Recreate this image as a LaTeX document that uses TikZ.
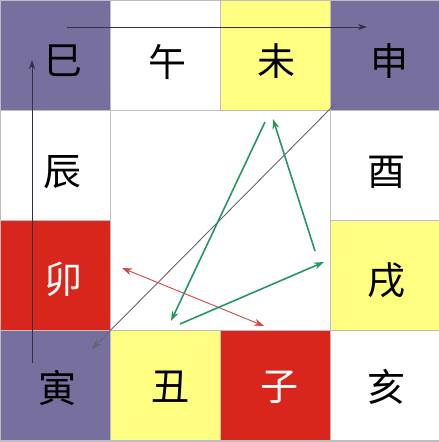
\documentclass[tikz,border=0pt]{standalone}
\usepackage{fontspec}
\newfontfamily\cjk{Noto Sans CJK SC}
\usetikzlibrary{arrows.meta}
\definecolor{cpurple}{RGB}{119,112,158}
\definecolor{cyellow}{RGB}{254,254,128}
\definecolor{cred}{RGB}{216,38,28}
\definecolor{cgrid}{RGB}{190,190,190}
\definecolor{cdark}{RGB}{50,50,70}
\definecolor{cgreen}{RGB}{40,150,100}
\definecolor{carrred}{RGB}{210,70,70}
\definecolor{cdiag}{RGB}{100,100,115}
\tikzset{
  cell/.style={draw=cgrid, line width=0.8pt, minimum width=110pt, minimum height=110pt, inner sep=0pt, anchor=north west},
  lbl/.style={font=\cjk\fontsize{38}{38}\selectfont, inner sep=0pt},
  wlbl/.style={lbl, text=white},
  darrow/.style={draw=cdark, line width=1pt, -{Stealth[length=9pt,width=6pt]}},
  garrow/.style={draw=cgreen, line width=1.6pt, -{Stealth[length=10pt,width=7pt]}},
  rarrow/.style={draw=carrred, line width=0.9pt, {Stealth[length=10pt,width=7pt]}-{Stealth[length=10pt,width=7pt]}},
  diagarrow/.style={draw=cdiag, line width=0.9pt, -{Stealth[length=10pt,width=7pt]}}
}
\begin{document}
\begin{tikzpicture}[x=1pt,y=-1pt]
\useasboundingbox (0,0) rectangle (439,442);
\fill[white] (0,0) rectangle (439,442);
% cells
\node[cell, fill=cpurple] (c00) at (0,0) {};
\node[cell, fill=white] (c01) at (110,0) {};
\node[cell, fill=cyellow] (c02) at (220,0) {};
\node[cell, fill=cpurple] (c03) at (330,0) {};
\node[cell, fill=white] (c10) at (0,110) {};
\node[cell, fill=white] (c13) at (330,110) {};
\node[cell, fill=cred] (c20) at (0,220) {};
\node[cell, fill=cyellow] (c23) at (330,220) {};
\node[cell, fill=cpurple] (c30) at (0,330) {};
\node[cell, fill=cyellow] (c31) at (110,330) {};
\node[cell, fill=cred] (c32) at (220,330) {};
\node[cell, fill=white] (c33) at (330,330) {};
\draw[cgrid, line width=1pt] (0,0) rectangle (439,441);
% labels
\node[lbl] (t00) at (64,61) {巳};
\node[lbl] (t01) at (167,62) {午};
\node[lbl] (t02) at (276,61) {未};
\node[lbl] (t03) at (389,61) {申};
\node[lbl] (t10) at (62,172) {辰};
\node[lbl] (t13) at (386,172) {酉};
\node[wlbl] (t20) at (64,279) {卯};
\node[lbl] (t23) at (386,280) {戌};
\node[lbl] (t30) at (57,388) {寅};
\node[lbl] (t31) at (170,387) {丑};
\node[wlbl] (t32) at (279,387) {子};
\node[lbl] (t33) at (386,387) {亥};
% arrow coordinates
\coordinate (h1) at (67,27);
\coordinate (h2) at (367,27);
\coordinate (v1) at (32,363);
\coordinate (v2) at (32,60);
\coordinate (d1) at (335,104);
\coordinate (d2) at (92,349);
\coordinate (g1a) at (265,122);
\coordinate (g1b) at (171,321);
\coordinate (g2a) at (180,324);
\coordinate (g2b) at (324,262);
\coordinate (g3a) at (315,251);
\coordinate (g3b) at (273,119);
\coordinate (r1) at (122,268);
\coordinate (r2) at (264,326);
\draw[darrow] (h1) -- (h2);
\draw[darrow] (v1) -- (v2);
\draw[diagarrow] (d1) -- (d2);
\draw[rarrow] (r1) -- (r2);
\draw[garrow] (g1a) -- (g1b);
\draw[garrow] (g2a) -- (g2b);
\draw[garrow] (g3a) -- (g3b);
\end{tikzpicture}
\end{document}
